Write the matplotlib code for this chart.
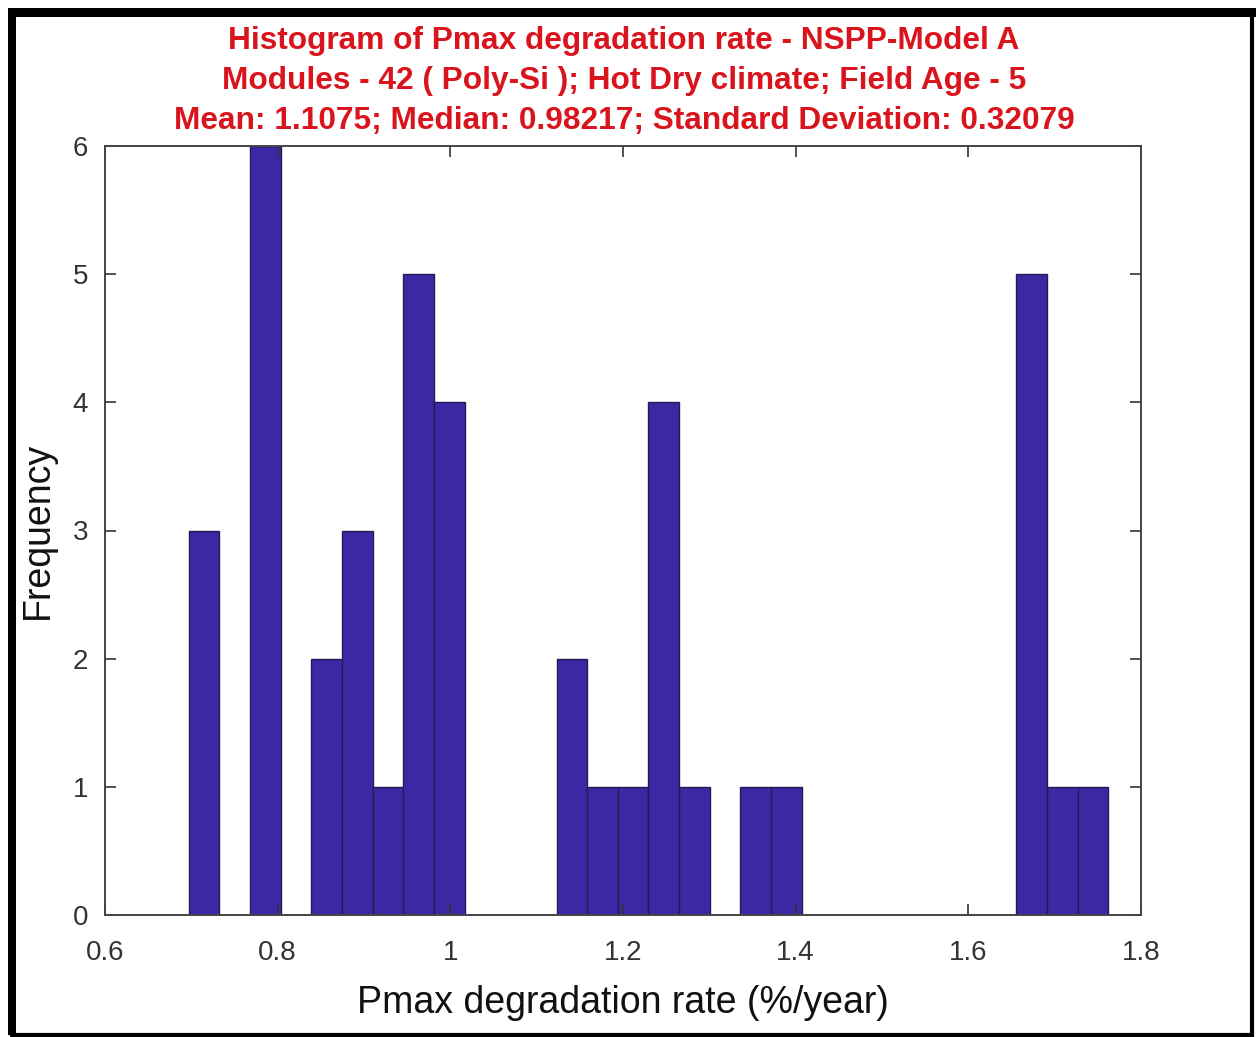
import numpy as np
import matplotlib.pyplot as plt
from matplotlib.patches import Rectangle

# histogram of module degradation rates, 30 equal bins
bin_lo = 0.697
bin_hi = 1.762
counts = [3, 0, 6, 0, 2, 3, 1, 5, 4, 0,
          0, 0, 2, 1, 1, 4, 1, 0, 1, 1,
          0, 0, 0, 0, 0, 0, 0, 5, 1, 1]

title_lines = [
    "Histogram of Pmax degradation rate - NSPP-Model A",
    "Modules - 42 ( Poly-Si ); Hot Dry climate; Field Age - 5",
    "Mean: 1.1075; Median: 0.98217; Standard Deviation: 0.32079",
]
xticks = [0.6, 0.8, 1.0, 1.2, 1.4, 1.6, 1.8]
xtick_labels = ["0.6", "0.8", "1", "1.2", "1.4", "1.6", "1.8"]
yticks = [0, 1, 2, 3, 4, 5, 6]

plt.rcParams['font.family'] = ['Liberation Sans', 'DejaVu Sans']

edges = np.linspace(bin_lo, bin_hi, len(counts) + 1)
centers = (edges[:-1] + edges[1:]) / 2

fig = plt.figure(figsize=(12.56, 10.37), dpi=100)
ax = fig.add_axes([105 / 1256, 1 - 915 / 1037, 1036 / 1256, 769 / 1037])

ax.hist(centers, bins=edges, weights=counts, color="#3C28A4",
        edgecolor="#241a55", linewidth=1.0)

ax.set_xlim(0.6, 1.8)
ax.set_ylim(0, 6)
ax.set_xticks(xticks)
ax.set_xticklabels(xtick_labels)
ax.set_yticks(yticks)
ax.tick_params(direction="in", length=8, width=1.2, colors="#333333",
               labelsize=20, top=True, right=True)
ax.tick_params(axis="x", pad=18)
ax.tick_params(axis="y", pad=12)
for s in ax.spines.values():
    s.set_color("#444444")
    s.set_linewidth(1.4)

ax.set_xlabel("Pmax degradation rate (%/year)", fontsize=27, color="#111111",
              labelpad=14)
ax.set_ylabel("Frequency", fontsize=27, color="#111111", labelpad=12)

for i, line in enumerate(title_lines):
    fig.text(624 / 1256, 1 - (41 + 40 * i) / 1037, line, ha="center",
             va="center", fontsize=22.8, fontweight="bold", color="#D9141C")

# black frame around the whole figure
fig.patches.append(Rectangle((12 / 1256, 2.5 / 1037), 1240 / 1256, 1021 / 1037,
                             transform=fig.transFigure, fill=False,
                             edgecolor="black", linewidth=3.0))
fig.patches.append(Rectangle((8 / 1256, 1 - 17 / 1037), 1248 / 1256, 9 / 1037,
                             transform=fig.transFigure, facecolor="black"))
fig.patches.append(Rectangle((8 / 1256, 2 / 1037), 8 / 1256, 1027 / 1037,
                             transform=fig.transFigure, facecolor="black"))

fig.savefig("out.png", dpi=100)
